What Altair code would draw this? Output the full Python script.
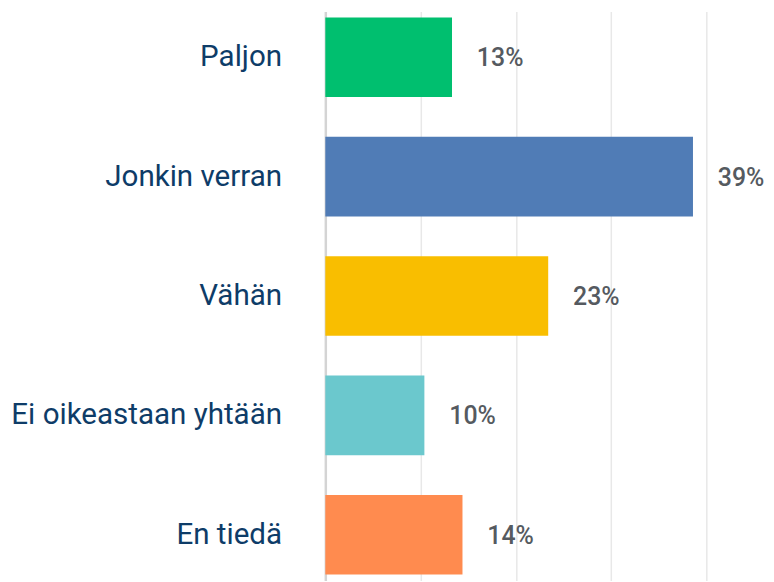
import altair as alt
import pandas as pd

categories = ["Paljon", "Jonkin verran", "Vähän", "Ei oikeastaan yhtään", "En tiedä"]
values = [13.3, 38.6, 23.4, 10.4, 14.4]
labels = ["13%", "39%", "23%", "10%", "14%"]
colors = ["#00bf6f", "#507cb6", "#f9be00", "#6bc8cd", "#ff8b4f"]
grid_values = [10, 20, 30, 40]

df = pd.DataFrame({"cat": categories, "value": values, "label": labels})

y_enc = alt.Y(
    "cat:N",
    sort=categories,
    scale=alt.Scale(paddingInner=1 / 3, paddingOuter=0.05),
    axis=alt.Axis(
        title=None,
        ticks=False,
        labelPadding=44,
        labelFontSize=29.7,
        labelFont="Roboto",
        labelColor="#0e3c68",
        labelLimit=400,
        domainColor="#d4d4d4",
        domainWidth=2.5,
    ),
)
x_enc = alt.X(
    "value:Q",
    scale=alt.Scale(domain=[0, 40], nice=False, zero=True),
    axis=alt.Axis(
        title=None,
        labels=False,
        ticks=False,
        domain=False,
        values=grid_values,
        gridColor="#e8e8e8",
        gridWidth=1.5,
    ),
)

bars = alt.Chart(df).mark_bar().encode(
    y=y_enc,
    x=x_enc,
    color=alt.Color("cat:N", scale=alt.Scale(domain=categories, range=colors), legend=None),
)

text = alt.Chart(df).mark_text(
    align="left",
    baseline="middle",
    dx=25,
    dy=1,
    fontSize=25,
    font="Roboto",
    fontWeight=500,
    color="#555a60",
).encode(y=alt.Y("cat:N", sort=categories), x=alt.X("value:Q"), text="label:N")

chart = (
    alt.layer(bars, text)
    .properties(
        width=383,
        height=572,
        autosize=alt.AutoSizeParams(type="none"),
        padding={"left": 319, "top": 2, "right": 60, "bottom": 0},
    )
    .configure_view(stroke=None)
)

chart.save("out.html", embed_options={"renderer": "svg", "actions": False})
